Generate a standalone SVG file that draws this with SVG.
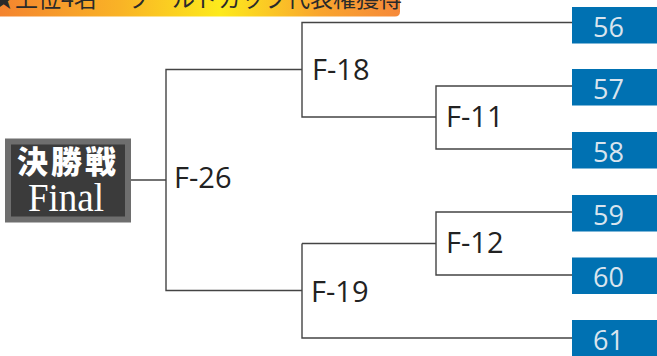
<svg xmlns="http://www.w3.org/2000/svg" width="657" height="356" viewBox="0 0 657 356">
<defs>
<linearGradient id="bg" x1="0" y1="0" x2="400" y2="0" gradientUnits="userSpaceOnUse">
<stop offset="0" stop-color="#f4842f"/>
<stop offset="0.3" stop-color="#f9b326"/>
<stop offset="0.55" stop-color="#fdea1c"/>
<stop offset="0.8" stop-color="#f9a52e"/>
<stop offset="1" stop-color="#f6893a"/>
</linearGradient>
<style>
.ln{fill:none;stroke:#444;stroke-width:1.4}
.lbl{font-family:"Open Sans","Noto Sans",sans-serif;font-size:29px;fill:#222}
.box{fill:#0071b2}
.num{font-family:"Open Sans","Noto Sans",sans-serif;font-size:27px;fill:#d9e4ee}
</style>
</defs>
<g id="banner">
<path d="M0 0 H400 V11.5 Q400 16.5 395 16.5 H0 Z" fill="url(#bg)"/>
<text x="-8" y="7" font-family="'Noto Sans CJK JP',sans-serif" font-size="23" fill="#2a2a2a">★上位4名<tspan x="126">ワールドカップ代表権獲得</tspan></text>
</g>
<g id="connectors">
<path class="ln" d="M130 180 H166"/>
<path class="ln" d="M302 69.5 H166 V290.5 H302"/>
<path class="ln" d="M572 22.5 H302 V117 H436"/>
<path class="ln" d="M572 86 H436 V149 H572"/>
<path class="ln" d="M302 243.5 V338 H572"/>
<path class="ln" d="M572 212 H436 V275 H572"/>
<path class="ln" d="M436 243.5 H302"/>
</g>
<g id="final">
<rect x="5" y="138.5" width="126" height="84" fill="#6e6e6e"/>
<rect x="11" y="144.5" width="114" height="72" fill="#3b3b3b"/>
<text x="68" y="173" text-anchor="middle" font-family="'Noto Sans CJK JP',sans-serif" font-weight="900" font-size="31" letter-spacing="3" fill="#ffffff">決勝戦</text>
<text x="66" y="211" text-anchor="middle" font-family="'Liberation Serif',serif" font-size="39" textLength="76" lengthAdjust="spacingAndGlyphs" fill="#ffffff">Final</text>
</g>
<g id="F-26"><text class="lbl" x="174" y="188">F-26</text></g>
<g id="F-18"><text class="lbl" x="312" y="80">F-18</text></g>
<g id="F-19"><text class="lbl" x="311" y="301.5">F-19</text></g>
<g id="F-11"><text class="lbl" x="446" y="127">F-11</text></g>
<g id="F-12"><text class="lbl" x="446" y="252.5">F-12</text></g>
<g id="n56"><rect class="box" x="572" y="7" width="85" height="36.5"/><text class="num" x="593" y="36.5">56</text></g>
<g id="n57"><rect class="box" x="572" y="69" width="85" height="36.5"/><text class="num" x="593" y="98.5">57</text></g>
<g id="n58"><rect class="box" x="572" y="132" width="85" height="36.5"/><text class="num" x="593" y="161.5">58</text></g>
<g id="n59"><rect class="box" x="572" y="195" width="85" height="36.5"/><text class="num" x="593" y="224.5">59</text></g>
<g id="n60"><rect class="box" x="572" y="257.5" width="85" height="36.5"/><text class="num" x="593" y="287">60</text></g>
<g id="n61"><rect class="box" x="572" y="320" width="85" height="36.5"/><text class="num" x="593" y="349.5">61</text></g>
</svg>
